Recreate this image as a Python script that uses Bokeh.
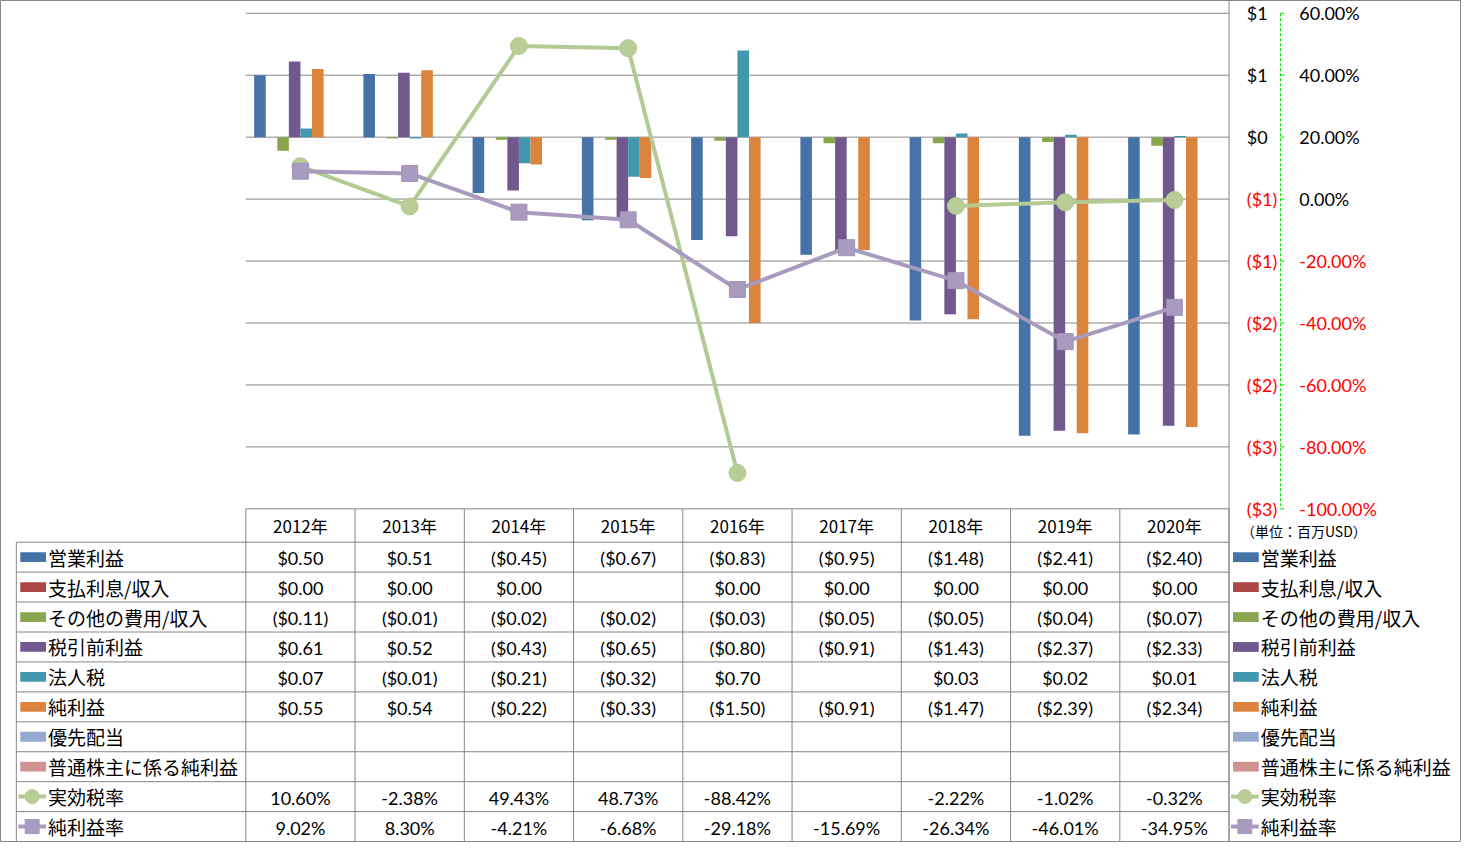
import math
from bokeh.plotting import figure
from bokeh.models import Range1d
from bokeh.core.properties import value
from bokeh.embed import file_html
from bokeh.resources import INLINE

# ---------------- data ----------------
years = ["2012年", "2013年", "2014年", "2015年", "2016年", "2017年", "2018年", "2019年", "2020年"]
bar_names = ["営業利益", "支払利息/収入", "その他の費用/収入", "税引前利益", "法人税", "純利益",
             "優先配当", "普通株主に係る純利益"]
operating_income = [0.50, 0.51, -0.45, -0.67, -0.83, -0.95, -1.48, -2.41, -2.40]
interest = [0.00, 0.00, 0.00, None, 0.00, 0.00, 0.00, 0.00, 0.00]
other_exp = [-0.11, -0.01, -0.02, -0.02, -0.03, -0.05, -0.05, -0.04, -0.07]
pretax_income = [0.61, 0.52, -0.43, -0.65, -0.80, -0.91, -1.43, -2.37, -2.33]
income_tax = [0.07, -0.01, -0.21, -0.32, 0.70, None, 0.03, 0.02, 0.01]
net_income = [0.55, 0.54, -0.22, -0.33, -1.50, -0.91, -1.47, -2.39, -2.34]
preferred_div = [None, None, None, None, None, None, None, None, None]
common_net = [None, None, None, None, None, None, None, None, None]
line_names = ["実効税率", "純利益率"]
effective_tax_rate = [10.60, -2.38, 49.43, 48.73, -88.42, None, -2.22, -1.02, -0.32]
net_margin = [9.02, 8.30, -4.21, -6.68, -29.18, -15.69, -26.34, -46.01, -34.95]
dollar_ticks = [1.0, 0.5, 0.0, -0.5, -1.0, -1.5, -2.0, -2.5, -3.0]
pct_ticks = [60, 40, 20, 0, -20, -40, -60, -80, -100]
unit_label = "（単位：百万USD）"

bar_series = [operating_income, interest, other_exp, pretax_income, income_tax, net_income,
              preferred_div, common_net]
bar_colors = ["#4572A7", "#AA4643", "#89A54E", "#71588F", "#4198AF", "#DB843D", "#93A9CF", "#D19392"]
green_line, green_mark = "#B5CA92", "#B9CD96"
purple_line, purple_mark = "#A99BBD", "#A89BBF"

# ---------------- layout (reference pixels, scaled into the figure) ----------------
W, H = 1461, 842
RW, RH = 1477, 858
PL, PR, PT, PB = 248, 1242, 13, 518
CW = (PR - PL) / 9.0
PPD = (PB - PT) / 4.0       # px per dollar
PPP = (PB - PT) / 160.0     # px per percent
BW = 11.7 / CW              # bar width in category units
ROW0, ROWH = 552, 30.5
GRID = "#868686"
JP = value("Noto Sans CJK JP")
NUM = value("Lato")

def cx(px):
    return (px - PL) / CW - 0.5

def dv(py):
    return 1.0 - (py - PT) / PPD

def pv(py):
    return 60.0 - (py - PT) / PPP

p = figure(width=W, height=H, output_backend="svg", toolbar_location=None,
           x_range=Range1d(cx(0), cx(RW)), y_range=Range1d(dv(RH), dv(0)),
           x_axis_location=None, y_axis_location=None, min_border=0)
p.grid.visible = False
p.outline_line_color = GRID
p.background_fill_color = "white"
p.border_fill_color = "white"
p.extra_x_ranges = {"px": Range1d(0, RW)}
p.extra_y_ranges = {"pct": Range1d(pv(RH), pv(0)), "py": Range1d(RH, 0)}

# gridlines
p.segment(x0=[PL] * len(dollar_ticks), x1=[PR] * len(dollar_ticks), y0=dollar_ticks, y1=dollar_ticks,
          x_range_name="px", line_color=GRID, line_width=1)
# vertical separator at right of plot
p.segment(x0=[PR], x1=[PR], y0=[0], y1=[RH], x_range_name="px", y_range_name="py",
          line_color=GRID, line_width=1)

# bars
for j, (vals, col) in enumerate(zip(bar_series, bar_colors)):
    xs = [i + (j - 3.5) * BW for i, v in enumerate(vals) if v is not None]
    tops = [v for v in vals if v is not None]
    if xs:
        p.vbar(x=xs, width=BW, top=tops, bottom=0, fill_color=col, line_color=None)

# lines
xi = list(range(len(years)))
ety = [float("nan") if v is None else v for v in effective_tax_rate]
nmy = [float("nan") if v is None else v for v in net_margin]
p.line(xi, ety, y_range_name="pct", line_color=green_line, line_width=4, line_join="round")
p.scatter(xi, ety, y_range_name="pct", marker="circle", size=17, fill_color=green_mark,
          line_color=green_line, line_width=1)
p.line(xi, nmy, y_range_name="pct", line_color=purple_line, line_width=4, line_join="round")
p.scatter(xi, nmy, y_range_name="pct", marker="square", size=16, fill_color=purple_mark,
          line_color="#A194B8", line_width=1)

# right axes
def dollar_fmt(v):
    n = int(abs(v) + 0.5)
    return f"${n}" if v >= 0 else f"(${n})"

p.text(x=[1260] * len(dollar_ticks), y=dollar_ticks, text=[dollar_fmt(v) for v in dollar_ticks],
       text_color=["#000000" if v >= 0 else "#FF0000" for v in dollar_ticks],
       x_range_name="px", text_font=NUM, text_font_size="18px", text_align="left",
       text_baseline="middle")
p.segment(x0=[1294], x1=[1294], y0=[pct_ticks[0]], y1=[pct_ticks[-1]], x_range_name="px",
          y_range_name="pct", line_color="#00DD00", line_width=1, line_dash="3 2")
p.segment(x0=[1294] * len(pct_ticks), x1=[1298] * len(pct_ticks), y0=pct_ticks, y1=pct_ticks,
          x_range_name="px", y_range_name="pct", line_color="#00DD00", line_width=1)
p.text(x=[1313] * len(pct_ticks), y=pct_ticks, text=[f"{v:.2f}%" for v in pct_ticks],
       text_color=["#000000" if v >= 0 else "#FF0000" for v in pct_ticks],
       x_range_name="px", y_range_name="pct", text_font=NUM, text_font_size="18px",
       text_align="left", text_baseline="middle")
p.text(x=[1254], y=[541], text=[unit_label], x_range_name="px", y_range_name="py",
       text_font=JP, text_font_size="14px", text_align="left", text_baseline="middle",
       text_color="#000000")

# ---------------- data table ----------------
nrows = len(bar_names) + len(line_names)
col_x = [PL + k * CW for k in range(len(years) + 1)]
p.segment(x0=col_x, x1=col_x, y0=[PB] * len(col_x), y1=[RH] * len(col_x),
          x_range_name="px", y_range_name="py", line_color=GRID, line_width=1)
row_y = [ROW0 + r * ROWH for r in range(nrows)]
p.segment(x0=[16] * len(row_y), x1=[PR] * len(row_y), y0=row_y, y1=row_y,
          x_range_name="px", y_range_name="py", line_color=GRID, line_width=1)
p.segment(x0=[16], x1=[16], y0=[ROW0], y1=[RH], x_range_name="px", y_range_name="py",
          line_color=GRID, line_width=1)

centers = [PL + (i + 0.5) * CW for i in range(len(years))]
p.text(x=centers, y=[535] * len(years), text=years, x_range_name="px", y_range_name="py",
       text_font=JP, text_font_size="17px", text_align="center", text_baseline="middle",
       text_color="#000000")

def money(v):
    if v is None:
        return ""
    return f"${v:.2f}" if v >= 0 else f"(${-v:.2f})"

def pct(v):
    return "" if v is None else f"{v:.2f}%"

rows_txt = [[money(v) for v in s] for s in bar_series] + \
           [[pct(v) for v in effective_tax_rate], [pct(v) for v in net_margin]]
for r, cells in enumerate(rows_txt):
    cy = ROW0 + (r + 0.5) * ROWH
    xs = [c for c, t in zip(centers, cells) if t]
    ts = [t for t in cells if t]
    p.text(x=xs, y=[cy + 1] * len(xs), text=ts, x_range_name="px", y_range_name="py",
           text_font=NUM, text_font_size="18px", text_align="center", text_baseline="middle",
           text_color="#000000")

# legend keys (left column and right legend)
all_names = bar_names + line_names
for (kx0, tx) in [(20, 48), (1246, 1274)]:
    cys = [ROW0 + (r + 0.5) * ROWH for r in range(nrows)]
    nb = len(bar_names)
    p.quad(left=[kx0] * nb, right=[kx0 + 26] * nb, top=[c - 5 for c in cys[:nb]],
           bottom=[c + 5 for c in cys[:nb]], fill_color=bar_colors, line_color=None,
           x_range_name="px", y_range_name="py")
    for k, (lc, mc, mk) in enumerate([(green_line, green_mark, "circle"),
                                      (purple_line, purple_mark, "square")]):
        cyk = cys[nb + k]
        p.segment(x0=[kx0 - 2], x1=[kx0 + 26], y0=[cyk], y1=[cyk], line_color=lc, line_width=4,
                  x_range_name="px", y_range_name="py")
        p.scatter(x=[kx0 + 12], y=[cyk], marker=mk, size=14, fill_color=mc, line_color=lc,
                  x_range_name="px", y_range_name="py")
    p.text(x=[tx] * nrows, y=cys, text=all_names, x_range_name="px", y_range_name="py",
           text_font=JP, text_font_size="19px", text_align="left", text_baseline="middle",
           text_color="#000000")

open("out.html", "w").write(file_html(p, INLINE))
